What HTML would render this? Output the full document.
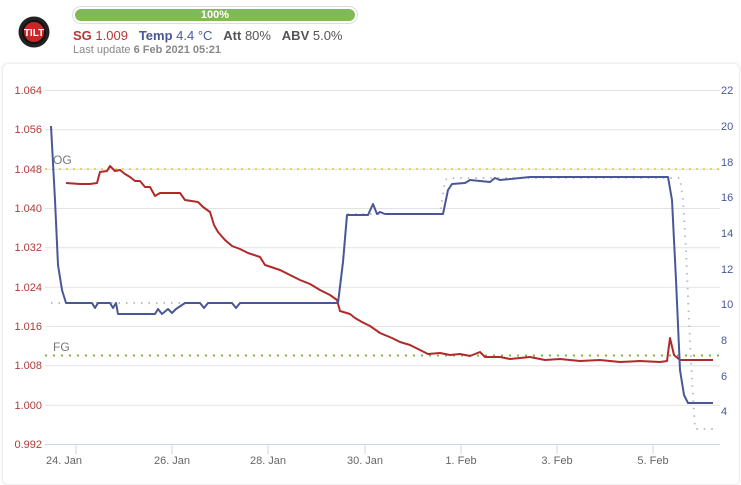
<!DOCTYPE html>
<html><head><meta charset="utf-8"><style>
body{margin:0;width:741px;height:477px;background:#fff;font-family:"Liberation Sans",sans-serif;position:relative;overflow:hidden}
.bar{position:absolute;left:72px;top:6px;width:284px;height:16px;border:1px solid #ddd;border-radius:9px;background:#fff}
.bar div{position:absolute;left:2px;top:2px;right:2px;bottom:2px;border-radius:7px;background:#80b957;color:#fff;font-weight:bold;font-size:11px;text-align:center;line-height:12px}
.st{position:absolute;left:73px;top:28px;font-size:13px;color:#555;white-space:nowrap}
.lu{position:absolute;left:73px;top:44px;font-size:11px;color:#888}
.card{position:absolute;left:2px;top:63px;width:736px;height:420px;border:1px solid #eee;border-radius:6px;box-shadow:0 0 3px rgba(0,0,0,.08)}
</style></head><body>
<svg style="position:absolute;left:18px;top:16px" width="32" height="32"><circle cx="16" cy="16" r="15.5" fill="#222"/><circle cx="16" cy="16" r="11" fill="#c62828" stroke="#111" stroke-width="2"/><text x="16" y="20" font-size="10" font-weight="bold" fill="#fff" text-anchor="middle" font-family="Liberation Sans">TILT</text></svg>
<div class="bar"><div>100%</div></div>
<div class="st"><b style="color:#b23a3a">SG</b> <span style="color:#b23a3a">1.009</span>&nbsp;&nbsp; <b style="color:#4a5797">Temp</b> <span style="color:#4a5797">4.4 °C</span>&nbsp;&nbsp; <b>Att</b> 80%&nbsp;&nbsp; <b>ABV</b> 5.0%</div>
<div class="lu">Last update <b>6 Feb 2021 05:21</b></div>
<div class="card"></div>
<svg style="position:absolute;left:0;top:0" width="741" height="477" font-family="Liberation Sans" font-size="11">
<g stroke="#e3e3e3" stroke-width="1">
<line x1="45" x2="720" y1="90.5" y2="90.5"/><line x1="45" x2="720" y1="129.8" y2="129.8"/><line x1="45" x2="720" y1="169.2" y2="169.2"/><line x1="45" x2="720" y1="208.5" y2="208.5"/><line x1="45" x2="720" y1="247.8" y2="247.8"/><line x1="45" x2="720" y1="287.2" y2="287.2"/><line x1="45" x2="720" y1="326.5" y2="326.5"/><line x1="45" x2="720" y1="365.8" y2="365.8"/><line x1="45" x2="720" y1="405.2" y2="405.2"/>
</g>
<line x1="45" x2="720" y1="444.5" y2="444.5" stroke="#ccd6eb"/>
<g stroke="#ccd6eb"><line x1="76" x2="76" y1="444" y2="454"/><line x1="172" x2="172" y1="444" y2="454"/><line x1="268" x2="268" y1="444" y2="454"/><line x1="365" x2="365" y1="444" y2="454"/><line x1="461" x2="461" y1="444" y2="454"/><line x1="557" x2="557" y1="444" y2="454"/><line x1="653" x2="653" y1="444" y2="454"/></g>
<g fill="#666" text-anchor="middle"><text x="64" y="464">24. Jan</text><text x="172" y="464">26. Jan</text><text x="268" y="464">28. Jan</text><text x="365" y="464">30. Jan</text><text x="461" y="464">1. Feb</text><text x="557" y="464">3. Feb</text><text x="653" y="464">5. Feb</text></g>
<g fill="#b23a3a" text-anchor="end"><text x="42" y="94">1.064</text><text x="42" y="133">1.056</text><text x="42" y="173">1.048</text><text x="42" y="212">1.040</text><text x="42" y="251">1.032</text><text x="42" y="291">1.024</text><text x="42" y="330">1.016</text><text x="42" y="369">1.008</text><text x="42" y="409">1.000</text><text x="42" y="448">0.992</text></g>
<g fill="#4a5797" text-anchor="start"><text x="721" y="94">22</text><text x="721" y="130">20</text><text x="721" y="166">18</text><text x="721" y="201">16</text><text x="721" y="237">14</text><text x="721" y="273">12</text><text x="721" y="308">10</text><text x="721" y="344">8</text><text x="721" y="380">6</text><text x="721" y="415">4</text></g>
<line x1="45" x2="720" y1="169" y2="169" stroke="#e8c040" stroke-width="1.5" stroke-dasharray="2,5"/>
<line x1="45" x2="720" y1="355.5" y2="355.5" stroke="#7cb342" stroke-width="2" stroke-dasharray="2,6"/>
<text x="53" y="164" fill="#777" font-size="12">OG</text><text x="53" y="351" fill="#777" font-size="12">FG</text>
<path d="M51,303 L180,303 M338,303 L343,260 L347,214 L440,214 L445,180 L450,178 L680,178 L683,200 L686,250 L689,320 L692,380 L695,429 L713,429" fill="none" stroke="#b8bccc" stroke-width="2" stroke-dasharray="1.5,6"/>
<path d="M66,183 L80,184 L90,184 L97,183 L100,172 L107,171 L110,166 L115,171 L120,170 L125,174 L130,177 L135,181 L140,181 L145,187 L150,187 L155,196 L160,193 L180,193 L185,200 L198,202 L203,207 L210,212 L214,225 L218,232 L225,240 L232,246 L240,249 L248,253 L260,257 L265,265 L280,270 L290,275 L300,280 L310,284 L320,290 L330,295 L337,300 L340,311 L350,314 L355,318 L362,322 L370,326 L380,333 L392,338 L400,342 L410,345 L420,350 L428,354 L440,353 L450,355 L460,354 L470,356 L480,352 L485,357 L500,357 L510,359 L520,358 L530,357 L545,360 L560,359 L580,361 L600,360 L620,362 L640,361 L660,362 L667,361 L670,338 L674,355 L680,360 L713,360" fill="none" stroke="#b02a2a" stroke-width="2" stroke-linejoin="round"/>
<path d="M51,126 L55,200 L58,265 L62,290 L66,303 L92,303 L95,308 L98,303 L110,303 L113,308 L116,303 L118,314 L155,314 L158,309 L162,314 L168,309 L172,313 L176,309 L185,303 L200,303 L204,308 L208,303 L232,303 L236,308 L240,303 L338,303 L343,262 L347,215 L368,215 L373,204 L377,214 L380,212 L385,214 L443,214 L448,190 L452,184 L465,183 L470,180 L490,182 L495,178 L500,180 L530,177 L668,177 L672,200 L676,280 L680,370 L684,395 L688,403 L713,403" fill="none" stroke="#4a5797" stroke-width="2" stroke-linejoin="round"/>
</svg>
</body></html>
